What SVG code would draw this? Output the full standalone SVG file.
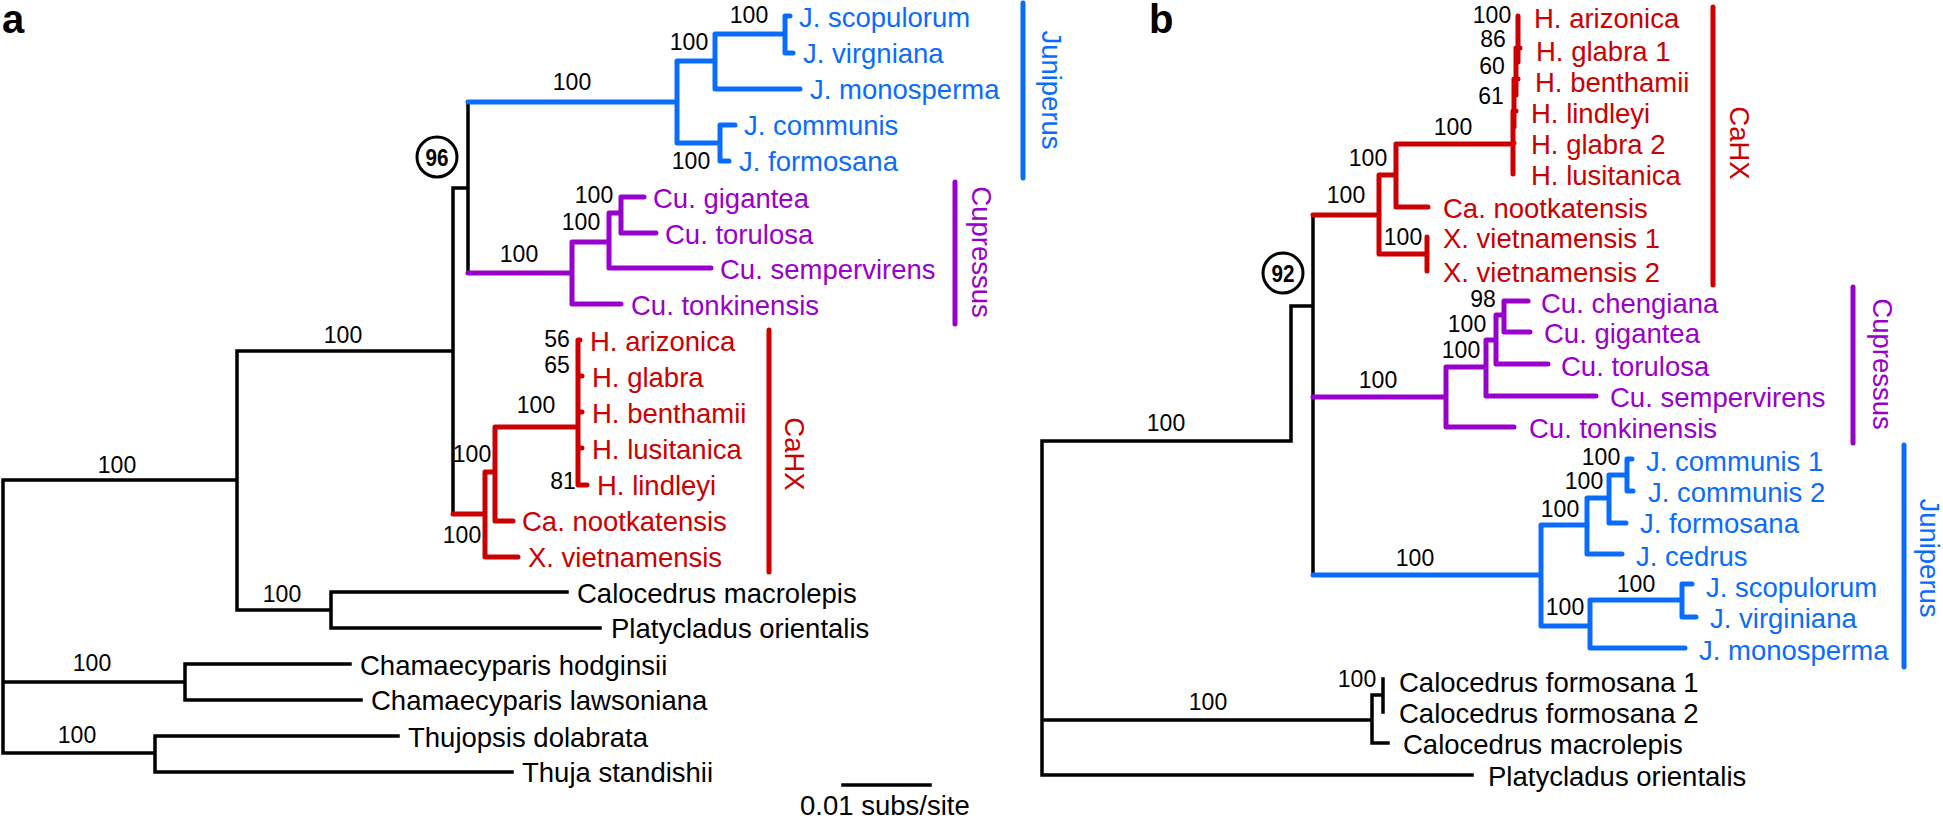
<svg xmlns="http://www.w3.org/2000/svg" width="1943" height="820" viewBox="0 0 1943 820">
<style>
text{font-family:"Liberation Sans",Arial,sans-serif;font-size:27.5px}
.bs{font-size:23px;text-anchor:middle;fill:#000}
.pl{font-size:40px;font-weight:bold}
.ci{font-size:24px;font-weight:bold;text-anchor:middle}
.k{stroke:#000;stroke-width:3.5;fill:none;stroke-linecap:square}
.b{stroke:#0a6cff;stroke-width:5;fill:none;stroke-linecap:round;stroke-linejoin:round}
.r{stroke:#cc0000;stroke-width:5;fill:none;stroke-linecap:round;stroke-linejoin:round}
.p{stroke:#9900cc;stroke-width:5;fill:none;stroke-linecap:round;stroke-linejoin:round}
.tb{fill:#0a6cff}.tr{fill:#cc0000}.tp{fill:#9900cc}.tk{fill:#000}
.c{fill:none;stroke:#000;stroke-width:3}
.vm{text-anchor:middle}
</style>
<rect width="1943" height="820" fill="#fff"/>
<g id="connectors">
<path class="k" d="M3 480V753M3 480H237M3 682H185M3 753H155M237 351V610M237 351H453M237 610H331M331 592V628M331 592H567M331 628H600M453 188V514M453 188H468M468 102V273M185 664V700M185 664H350M185 700H361M155 736V772M155 736H398M155 772H512M843 785H930"/>
<path class="b" d="M468 102H677M677 61V143M677 61H715M715 34V89M715 34H785M715 89H800M785 16V53M785 16H790M785 53H793M677 143H720M720 125V161M720 125H735M720 161H729"/>
<path class="p" d="M468 273H572M572 242V304M572 304H621M572 242H609M609 213V268M609 268H711M609 213H621M621 197V233M621 197H644M621 233H656"/>
<path class="r" d="M453 514H485M485 472V557M485 557H518M485 472H495M495 427V521M495 521H513M495 427H578M578 340V485M578 376H582M578 412H582M578 448H582M578 485H587M578 340H580"/>
<path class="k" d="M1042 441V775M1042 441H1291M1042 720H1372M1042 775H1472M1291 306V441M1291 306H1313M1313 215V575M1372 695V743M1372 743H1388M1372 695H1383M1383 679V712"/>
<path class="r" d="M1313 215H1379M1379 175V254M1379 175H1396M1396 144V207M1396 207H1428M1396 144H1513M1379 254H1427M1427 237V271M1518 16V62M1516 48V95M1514 79V127M1513 111V174M1518 48H1520M1516 79H1518M1514 111H1516M1513 143H1514"/>
<path class="p" d="M1313 397H1446M1446 367V427M1446 427H1514M1446 367H1486M1486 340V396M1486 396H1596M1486 340H1496M1496 315V364M1496 364H1548M1496 315H1504M1504 301V332M1504 301H1528M1504 332H1530"/>
<path class="b" d="M1313 575H1541M1541 525V626M1541 525H1587M1587 498V554M1587 554H1622M1587 498H1609M1609 475V523M1609 523H1626M1609 475H1627M1627 459V491M1627 459H1632M1627 491H1633M1541 626H1590M1590 600V648M1590 648H1685M1590 600H1682M1682 584V617M1682 584H1692M1682 617H1696"/>
</g>
<g id="panel-labels">
<text class="pl" x="2" y="33">a</text>
<text class="pl" x="1149" y="33">b</text>
</g>
<g id="a-support">
<text class="bs" x="117" y="473">100</text>
<text class="bs" x="343" y="343">100</text>
<text class="bs" x="282" y="602">100</text>
<text class="bs" x="92" y="671">100</text>
<text class="bs" x="77" y="743">100</text>
<text class="bs" x="572" y="90">100</text>
<text class="bs" x="689" y="50">100</text>
<text class="bs" x="749" y="23">100</text>
<text class="bs" x="691" y="169">100</text>
<text class="bs" x="519" y="262">100</text>
<text class="bs" x="581" y="230">100</text>
<text class="bs" x="594" y="203">100</text>
<text class="bs" x="462" y="543">100</text>
<text class="bs" x="472" y="462">100</text>
<text class="bs" x="536" y="413">100</text>
<text class="bs" x="557" y="347">56</text>
<text class="bs" x="557" y="373">65</text>
<text class="bs" x="563" y="489">81</text>
</g>
<g id="node-96">
<circle class="c" cx="437" cy="157" r="20"/>
<text class="ci" x="437" y="166" textLength="23" lengthAdjust="spacingAndGlyphs">96</text>
</g>
<g id="a-tips">
<text class="tb" x="799" y="27">J. scopulorum</text>
<text class="tb" x="803" y="63">J. virgniana</text>
<text class="tb" x="810" y="99">J. monosperma</text>
<text class="tb" x="744" y="135">J. communis</text>
<text class="tb" x="739" y="171">J. formosana</text>
<text class="tp" x="653" y="208">Cu. gigantea</text>
<text class="tp" x="665" y="244">Cu. torulosa</text>
<text class="tp" x="720" y="279">Cu. sempervirens</text>
<text class="tp" x="631" y="315">Cu. tonkinensis</text>
<text class="tr" x="590" y="351">H. arizonica</text>
<text class="tr" x="592" y="387">H. glabra</text>
<text class="tr" x="592" y="423">H. benthamii</text>
<text class="tr" x="592" y="459">H. lusitanica</text>
<text class="tr" x="597" y="495">H. lindleyi</text>
<text class="tr" x="522" y="531">Ca. nootkatensis</text>
<text class="tr" x="528" y="567">X. vietnamensis</text>
<text class="tk" x="577" y="603">Calocedrus macrolepis</text>
<text class="tk" x="611" y="638">Platycladus orientalis</text>
<text class="tk" x="360" y="675">Chamaecyparis hodginsii</text>
<text class="tk" x="371" y="710">Chamaecyparis lawsoniana</text>
<text class="tk" x="408" y="747">Thujopsis dolabrata</text>
<text class="tk" x="522" y="782">Thuja standishii</text>
<text class="tk" x="800" y="815">0.01 subs/site</text>
</g>
<g id="a-juniperus">
<path class="b" d="M1023 3V178"/>
<text class="tb vm" transform="translate(1042,90) rotate(90)">Juniperus</text>
</g>
<g id="a-cupressus">
<path class="p" d="M955 182V324"/>
<text class="tp vm" transform="translate(972,252) rotate(90)">Cupressus</text>
</g>
<g id="a-cahx">
<path class="r" d="M769 330V572"/>
<text class="tr vm" transform="translate(785,454) rotate(90)">CaHX</text>
</g>
<g id="b-support">
<text class="bs" x="1492" y="23">100</text>
<text class="bs" x="1493" y="47">86</text>
<text class="bs" x="1492" y="74">60</text>
<text class="bs" x="1491" y="104">61</text>
<text class="bs" x="1453" y="135">100</text>
<text class="bs" x="1368" y="166">100</text>
<text class="bs" x="1346" y="203">100</text>
<text class="bs" x="1403" y="245">100</text>
<text class="bs" x="1483" y="307">98</text>
<text class="bs" x="1467" y="332">100</text>
<text class="bs" x="1461" y="358">100</text>
<text class="bs" x="1378" y="388">100</text>
<text class="bs" x="1166" y="431">100</text>
<text class="bs" x="1601" y="465">100</text>
<text class="bs" x="1584" y="489">100</text>
<text class="bs" x="1560" y="517">100</text>
<text class="bs" x="1415" y="566">100</text>
<text class="bs" x="1636" y="592">100</text>
<text class="bs" x="1565" y="615">100</text>
<text class="bs" x="1357" y="687">100</text>
<text class="bs" x="1208" y="710">100</text>
</g>
<g id="node-92">
<circle class="c" cx="1283" cy="273" r="20"/>
<text class="ci" x="1283" y="282" textLength="23" lengthAdjust="spacingAndGlyphs">92</text>
</g>
<g id="b-tips">
<text class="tr" x="1534" y="28">H. arizonica</text>
<text class="tr" x="1536" y="61">H. glabra 1</text>
<text class="tr" x="1535" y="92">H. benthamii</text>
<text class="tr" x="1531" y="123">H. lindleyi</text>
<text class="tr" x="1531" y="154">H. glabra 2</text>
<text class="tr" x="1531" y="185">H. lusitanica</text>
<text class="tr" x="1443" y="218">Ca. nootkatensis</text>
<text class="tr" x="1443" y="248">X. vietnamensis 1</text>
<text class="tr" x="1443" y="282">X. vietnamensis 2</text>
<text class="tp" x="1541" y="313">Cu. chengiana</text>
<text class="tp" x="1544" y="343">Cu. gigantea</text>
<text class="tp" x="1561" y="376">Cu. torulosa</text>
<text class="tp" x="1610" y="407">Cu. sempervirens</text>
<text class="tp" x="1529" y="438">Cu. tonkinensis</text>
<text class="tb" x="1646" y="471">J. communis 1</text>
<text class="tb" x="1648" y="502">J. communis 2</text>
<text class="tb" x="1640" y="533">J. formosana</text>
<text class="tb" x="1636" y="566">J. cedrus</text>
<text class="tb" x="1706" y="597">J. scopulorum</text>
<text class="tb" x="1710" y="628">J. virginiana</text>
<text class="tb" x="1699" y="660">J. monosperma</text>
<text class="tk" x="1399" y="692">Calocedrus formosana 1</text>
<text class="tk" x="1399" y="723">Calocedrus formosana 2</text>
<text class="tk" x="1403" y="754">Calocedrus macrolepis</text>
<text class="tk" x="1488" y="786">Platycladus orientalis</text>
</g>
<g id="b-cahx">
<path class="r" d="M1713 7V285"/>
<text class="tr vm" transform="translate(1730,143) rotate(90)">CaHX</text>
</g>
<g id="b-cupressus">
<path class="p" d="M1853 287V443"/>
<text class="tp vm" transform="translate(1873,364) rotate(90)">Cupressus</text>
</g>
<g id="b-juniperus">
<path class="b" d="M1904 445V667"/>
<text class="tb vm" transform="translate(1920,558) rotate(90)">Juniperus</text>
</g>
</svg>
